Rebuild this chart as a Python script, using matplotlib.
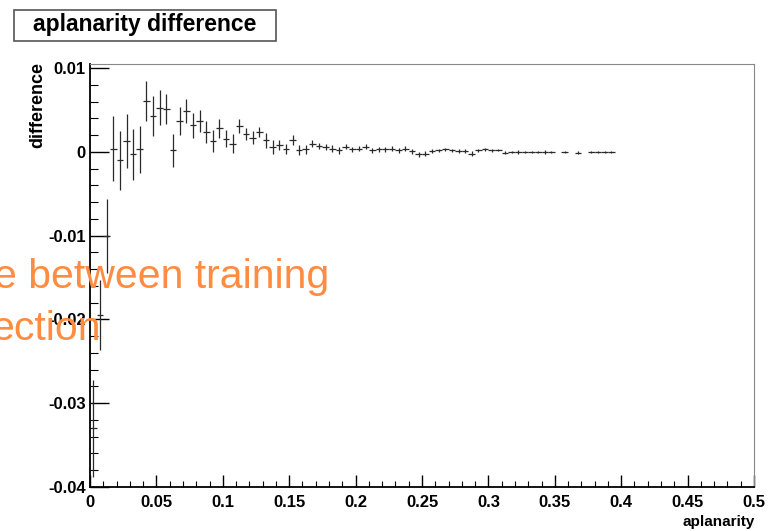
import numpy as np
import matplotlib
matplotlib.use("Agg")
import matplotlib.pyplot as plt
from matplotlib.patches import Rectangle
from matplotlib.ticker import MultipleLocator, FuncFormatter

# bin centres of the aplanarity histogram (bin width 0.005)
bin_width = 0.005
bin_centers = np.arange(0.0025, 0.3950, bin_width)

# difference per bin and its error (nan = empty bin, not drawn)
diff_values = [
    -0.0330, -0.0195, -0.0100, 0.0004, -0.0010, 0.0013, -0.0003, 0.0003,
    0.0061, 0.0043, 0.0053, 0.0051, 0.0002, 0.0037, 0.0049, 0.0032,
    0.0037, 0.0024, 0.0013, 0.0028, 0.0016, 0.0010, 0.0031, 0.0021,
    0.0017, 0.0024, 0.0014, 0.0006, 0.0008, 0.0003, 0.0014, 0.0002,
    0.0003, 0.0010, 0.0007, 0.0006, 0.0004, 0.0002, 0.0006, 0.0003,
    0.0004, 0.0006, 0.0002, 0.0003, 0.0003, 0.0004, 0.0002, 0.0004,
    0.0001, -0.0003, -0.0002, 0.0001, 0.0002, 0.0003, 0.0002, 0.0001,
    0.0001, -0.0002, 0.0002, 0.0003, 0.0002, 0.0002, -0.0001, 0.0000,
    0.0000, 0.0000, 0.0000, 0.0000, 0.0000, 0.0000, np.nan, 0.0000,
    np.nan, -0.0001, np.nan, 0.0000, 0.0000, 0.0000, 0.0000,
]
diff_errors = [
    0.0058, 0.0042, 0.0044, 0.0039, 0.0035, 0.0032, 0.0030, 0.0028,
    0.0024, 0.0024, 0.0021, 0.0018, 0.0020, 0.0017, 0.0014, 0.0015,
    0.0013, 0.0013, 0.0013, 0.0011, 0.0010, 0.0011, 0.0008, 0.0007,
    0.0008, 0.0006, 0.0009, 0.0008, 0.0006, 0.0006, 0.0006, 0.0006,
    0.0005, 0.0004, 0.0004, 0.0004, 0.0004, 0.0004, 0.0003, 0.0003,
    0.0003, 0.0003, 0.0003, 0.0003, 0.0003, 0.0003, 0.0003, 0.0003,
    0.0003, 0.0003, 0.0003, 0.0002, 0.0002, 0.0002, 0.0002, 0.0002,
    0.0002, 0.0003, 0.0002, 0.0002, 0.0002, 0.0001, 0.0002, 0.0001,
    0.0002, 0.0001, 0.0001, 0.0001, 0.0002, 0.0001, np.nan, 0.0001,
    np.nan, 0.0002, np.nan, 0.0001, 0.0001, 0.0001, 0.0001,
]

x_label = "aplanarity"
y_label = "difference"
hist_title = "aplanarity difference"
overlay_lines = ["e between training", "ection"]

plt.rcParams["font.family"] = ["Liberation Sans", "DejaVu Sans"]

W, H = 769, 531
fig = plt.figure(figsize=(W / 100, H / 100), dpi=100)
ax = fig.add_axes([90 / W, 44 / H, 664 / W, 423 / H])

vals = np.array(diff_values, dtype=float)
errs = np.array(diff_errors, dtype=float)
ok = ~np.isnan(vals)
ax.errorbar(bin_centers[ok], vals[ok], yerr=errs[ok], xerr=bin_width / 2,
            fmt="none", ecolor="#2a2a2a", elinewidth=0.9, capsize=0)

ax.set_xlim(0, 0.5)
ax.set_ylim(-0.04, 0.0105)

ax.xaxis.set_major_locator(MultipleLocator(0.05))
ax.xaxis.set_minor_locator(MultipleLocator(0.01))
ax.yaxis.set_major_locator(MultipleLocator(0.01))
ax.yaxis.set_minor_locator(MultipleLocator(0.002))

def root_fmt(v, pos):
    s = f"{v:.2f}".rstrip("0").rstrip(".")
    return "0" if s in ("-0", "0") else s

ax.xaxis.set_major_formatter(FuncFormatter(root_fmt))
ax.yaxis.set_major_formatter(FuncFormatter(root_fmt))

ax.tick_params(axis="x", which="major", direction="in", length=9, width=1.0, pad=6,
               labelsize=12)
ax.tick_params(axis="x", which="minor", direction="in", length=4.5, width=0.8)
ax.tick_params(axis="y", which="major", direction="in", length=14, width=1.0, pad=3,
               labelsize=12)
ax.tick_params(axis="y", which="minor", direction="in", length=6, width=0.8)
for lbl in ax.get_xticklabels() + ax.get_yticklabels():
    lbl.set_fontweight("bold")

for side in ("top", "right"):
    ax.spines[side].set_color("#888888")
    ax.spines[side].set_linewidth(0.8)
for side in ("left", "bottom"):
    ax.spines[side].set_color("black")
    ax.spines[side].set_linewidth(1.3)

fig.text(755 / W, 2 / H, x_label, ha="right", va="bottom",
         fontsize=11, fontweight="bold")
fig.text(38 / W, 1 - 62 / H, y_label, ha="center", va="top", rotation=90,
         fontsize=13, fontweight="bold")

# title box in the top-left corner
fig.patches.append(Rectangle((14 / W, 1 - 41 / H), 262 / W, 31 / H,
                             transform=fig.transFigure, facecolor="white",
                             edgecolor="#555555", linewidth=1.2))
fig.text(145 / W, 1 - 25 / H, hist_title, ha="center", va="center",
         fontsize=16.5, fontweight="bold")

# slide text lying over the plot
fig.text(-6 / W, 1 - 277 / H, overlay_lines[0], ha="left", va="center",
         fontsize=29.5, color="#ff8c40")
fig.text(-9 / W, 1 - 329 / H, overlay_lines[1], ha="left", va="center",
         fontsize=29.5, color="#ff8c40")

fig.savefig("out.png", dpi=100)
